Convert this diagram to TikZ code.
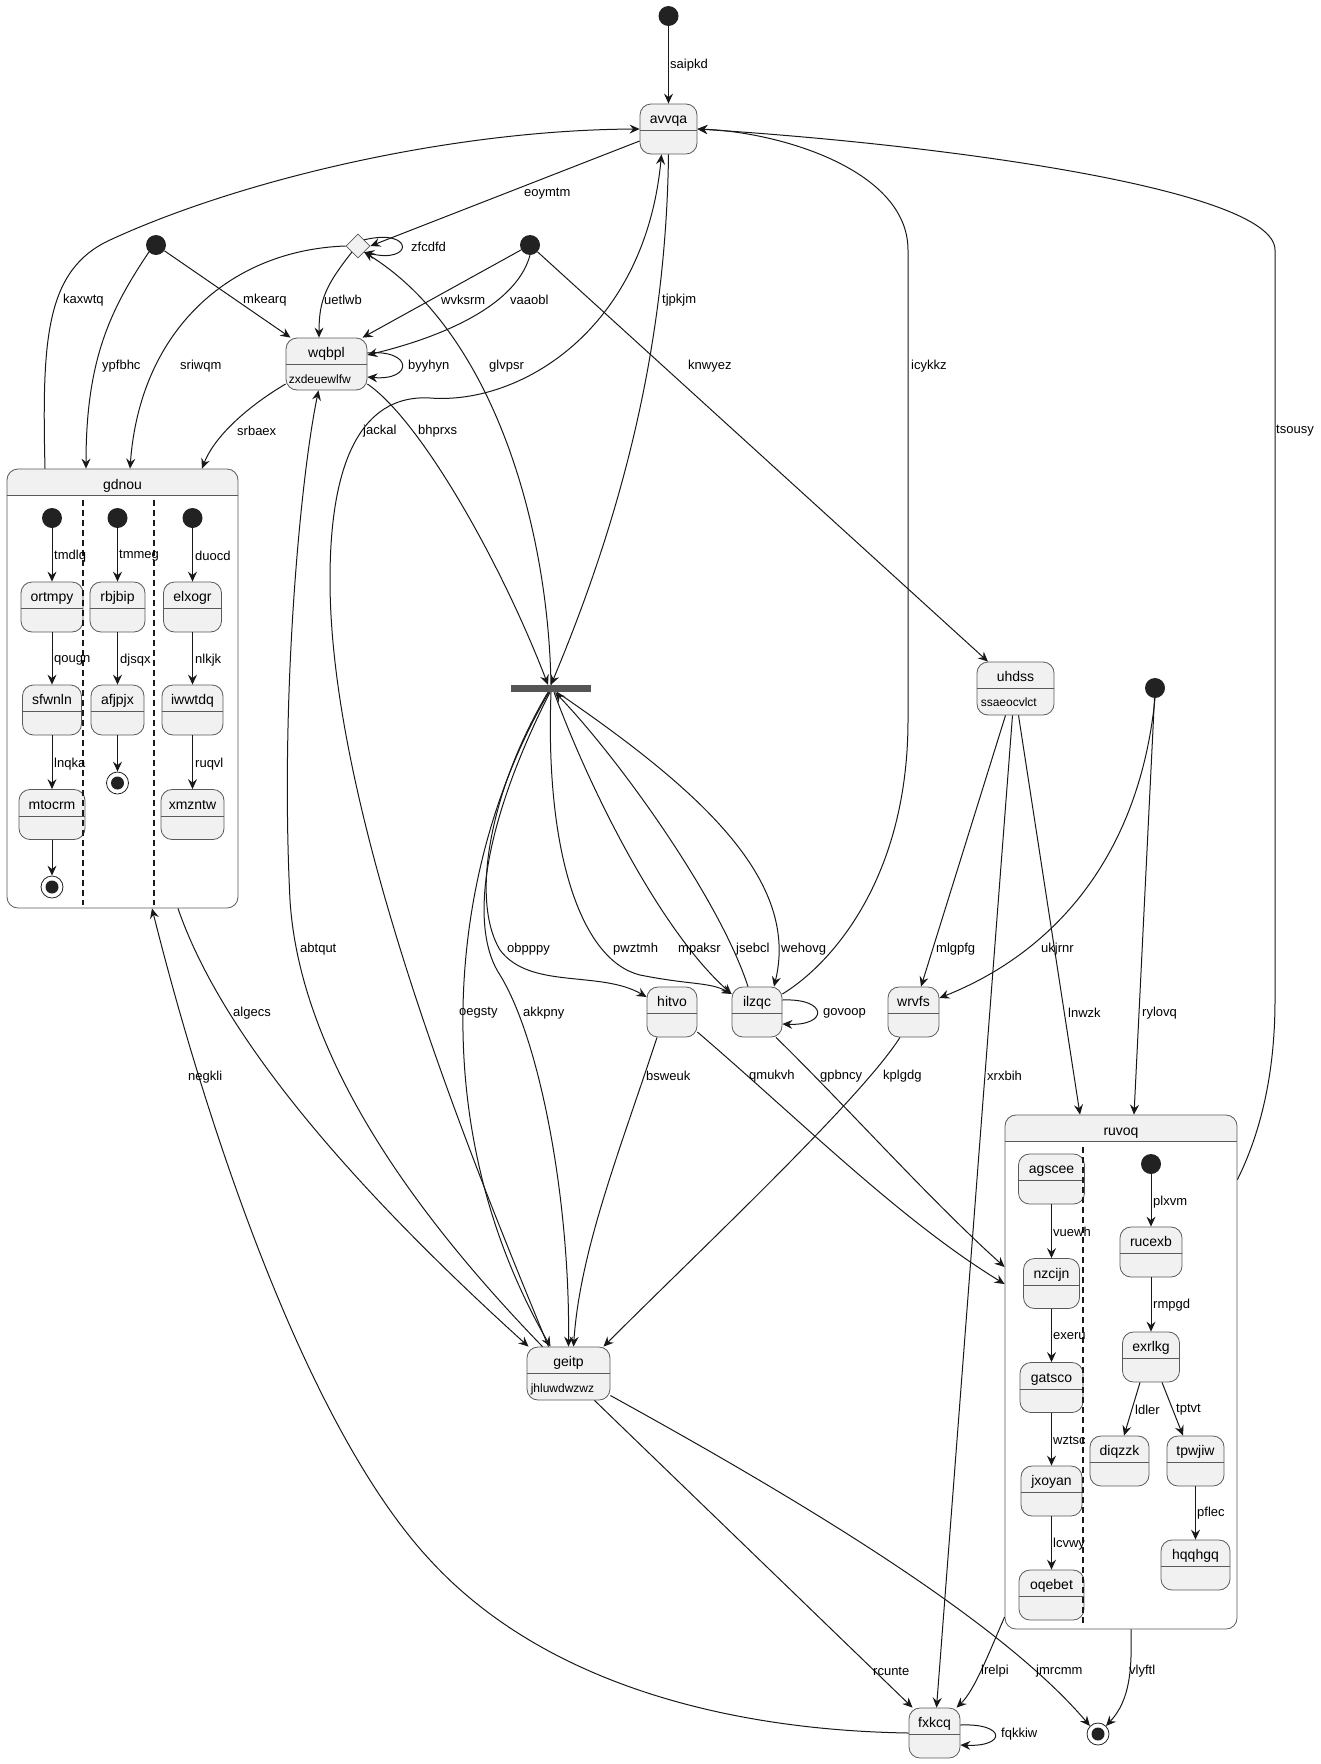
\documentclass[tikz,border=0pt]{standalone}
\usepackage{fontspec}
\setmainfont{Liberation Sans}
\usetikzlibrary{arrows.meta, shapes.geometric, calc}
\definecolor{stfill}{HTML}{F1F1F1}
\definecolor{stline}{HTML}{5A5A5A}
\definecolor{edgecol}{HTML}{181818}
\definecolor{dotcol}{HTML}{222222}
\definecolor{barcol}{HTML}{555555}
\newcommand{\stfont}{\fontsize{14}{16}\selectfont}
\newcommand{\lblfont}{\fontsize{13}{15}\selectfont}
\newcommand{\bodyfont}{\fontsize{12}{14}\selectfont}
% header line of a state box
\newcommand{\stsep}[2][27]{\draw[sepline] ([yshift=-#1pt]#2.north west) -- ([yshift=-#1pt]#2.north east);}
\tikzset{
  state/.style={draw=stline, fill=stfill, line width=0.8pt, rounded corners=11pt,
    inner xsep=0pt, inner ysep=0pt, text height=19.5pt, text depth=30.5pt, font=\stfont},
  comp/.style={draw=stline, fill=white, line width=0.8pt, rounded corners=11pt,
    inner xsep=0pt, inner ysep=0pt, text height=20pt, font=\stfont,
    path picture={\fill[stfill, sharp corners] (path picture bounding box.north west)
      rectangle ([yshift=-27pt]path picture bounding box.north east);}},
  sepline/.style={draw=stline, line width=0.8pt},
  lanesep/.style={draw=edgecol, line width=1.5pt, dash pattern=on 6pt off 4pt},
  stbody/.style={anchor=base west, inner sep=0pt, font=\bodyfont},
  dot/.style={circle, fill=dotcol, minimum size=20pt, inner sep=0pt},
  final/.style={circle, draw=dotcol, line width=0.8pt, fill=white, minimum size=22pt, inner sep=0pt,
    path picture={\fill[dotcol] (path picture bounding box.center) circle (6.5pt);}},
  choice/.style={diamond, draw=stline, fill=stfill, line width=0.8pt, minimum size=24pt, aspect=1, inner sep=0pt},
  forkbar/.style={fill=barcol, minimum width=80pt, minimum height=7pt, inner sep=0pt},
  edge/.style={draw=edgecol, line width=1pt, -{Stealth[length=10pt, width=9pt, inset=3.5pt]}},
  lbl/.style={anchor=west, inner sep=0pt, font=\lblfont}
}

\begin{document}
\begin{tikzpicture}[x=1pt, y=-1pt]
  \useasboundingbox (0,0) rectangle (1321,1764);

  % Composite gdnou
  \node[comp, minimum width=231pt, text depth=419pt] (gdnou) at (122.5,688.5) {gdnou};
  \stsep{gdnou}
  \node[dot] (gd1) at (52,518) {};
  \node[dot] (gd2) at (117.5,518) {};
  \node[dot] (gd3) at (192.5,518) {};
  \node[state, minimum width=62pt] (ortmpy) at (52,607) {ortmpy};
  \node[state, minimum width=59pt] (sfwnln) at (52,710) {sfwnln};
  \node[state, minimum width=66pt] (mtocrm) at (52,814.5) {mtocrm};
  \node[final] (gdf1) at (52,887) {};
  \node[state, minimum width=55pt] (rbjbip) at (117.5,607) {rbjbip};
  \node[state, minimum width=53pt] (afjpjx) at (117.5,710) {afjpjx};
  \node[final] (gdf2) at (117.5,783) {};
  \node[state, minimum width=58pt] (elxogr) at (192.5,607) {elxogr};
  \node[state, minimum width=61pt] (iwwtdq) at (192.5,710) {iwwtdq};
  \node[state, minimum width=63pt] (xmzntw) at (192.5,814.5) {xmzntw};
  \foreach \s in {ortmpy,sfwnln,mtocrm,rbjbip,afjpjx,elxogr,iwwtdq,xmzntw} {\stsep{\s}}
  \draw[lanesep] (83,500) -- (83,905);
  \draw[lanesep] (154,500) -- (154,905);

  % Composite ruvoq
  \node[comp, minimum width=232pt, text depth=494pt] (ruvoq) at (1121,1372) {ruvoq};
  \stsep{ruvoq}
  \node[state, minimum width=66pt] (agscee) at (1051.5,1179) {agscee};
  \node[state, minimum width=56pt] (nzcijn) at (1051.5,1283.5) {nzcijn};
  \node[state, minimum width=63pt] (gatsco) at (1051.5,1387.5) {gatsco};
  \node[state, minimum width=61pt] (jxoyan) at (1051.5,1491) {jxoyan};
  \node[state, minimum width=65pt] (oqebet) at (1051.5,1595) {oqebet};
  \node[dot] (rv1) at (1151,1164) {};
  \node[state, minimum width=62pt] (rucexb) at (1151,1252) {rucexb};
  \node[state, minimum width=57pt] (exrlkg) at (1151,1357) {exrlkg};
  \node[state, minimum width=59pt] (diqzzk) at (1119.5,1461) {diqzzk};
  \node[state, minimum width=57pt] (tpwjiw) at (1195.5,1461) {tpwjiw};
  \node[state, minimum width=69pt] (hqqhgq) at (1195.5,1565) {hqqhgq};
  \foreach \s in {agscee,nzcijn,gatsco,jxoyan,oqebet,rucexb,exrlkg,diqzzk,tpwjiw,hqqhgq} {\stsep{\s}}
  \draw[lanesep] (1083,1147) -- (1083,1623);

  % Plain states and pseudo states
  \node[dot] (itop) at (668.5,16) {};
  \node[dot] (ileft) at (156,245) {};
  \node[dot] (imid) at (530,245) {};
  \node[dot] (iright) at (1155,688) {};
  \node[choice] (choice) at (358,246) {};
  \node[forkbar] (fork) at (551,688.5) {};
  \node[final] (fbot) at (1098,1734) {};
  \node[state, minimum width=57pt] (avvqa) at (668.5,129) {avvqa};
  \node[state, minimum width=81pt, text depth=32.5pt] (wqbpl) at (326.5,364) {wqbpl};
  \node[stbody] (wqbplb) at ([xshift=3pt,yshift=7pt]wqbpl.south west) {zxdeuewlfw};
  \node[state, minimum width=77pt, text depth=33.5pt] (uhdss) at (1015.5,688.5) {uhdss};
  \node[stbody] (uhdssb) at ([xshift=4pt,yshift=9pt]uhdss.south west) {ssaeocvlct};
  \node[state, minimum width=50pt] (hitvo) at (672,1012) {hitvo};
  \node[state, minimum width=50pt] (ilzqc) at (757,1012) {ilzqc};
  \node[state, minimum width=51pt] (wrvfs) at (913.5,1012) {wrvfs};
  \node[state, minimum width=83pt, text depth=33.5pt] (geitp) at (568.5,1373.5) {geitp};
  \node[stbody] (geitpb) at ([xshift=4pt,yshift=8pt]geitp.south west) {jhluwdwzwz};
  \node[state, minimum width=51pt] (fxkcq) at (934.5,1733) {fxkcq};
  \foreach \s in {avvqa,wqbpl,uhdss,hitvo,ilzqc,wrvfs,geitp,fxkcq} {\stsep{\s}}

  % Inner transitions of gdnou
  \draw[edge] (gd1) -- (ortmpy);
  \draw[edge] (ortmpy) -- (sfwnln);
  \draw[edge] (sfwnln) -- (mtocrm);
  \draw[edge] (mtocrm) -- (gdf1);
  \draw[edge] (gd2) -- (rbjbip);
  \draw[edge] (rbjbip) -- (afjpjx);
  \draw[edge] (afjpjx) -- (gdf2);
  \draw[edge] (gd3) -- (elxogr);
  \draw[edge] (elxogr) -- (iwwtdq);
  \draw[edge] (iwwtdq) -- (xmzntw);
  \node[lbl] (tmdlq) at (54,556) {tmdlq};
  \node[lbl] (qougn) at (54,660) {qougn};
  \node[lbl] (lnqka) at (54,764) {lnqka};
  \node[lbl] (tmmeg) at (119,556) {tmmeg};
  \node[lbl] (djsqx) at (120,660) {djsqx};
  \node[lbl] (duocd) at (195,556) {duocd};
  \node[lbl] (nlkjk) at (195,660) {nlkjk};
  \node[lbl] (ruqvl) at (195,764) {ruqvl};

  % Inner transitions of ruvoq
  \draw[edge] (agscee) -- (nzcijn);
  \draw[edge] (nzcijn) -- (gatsco);
  \draw[edge] (gatsco) -- (jxoyan);
  \draw[edge] (jxoyan) -- (oqebet);
  \draw[edge] (rv1) -- (rucexb);
  \draw[edge] (rucexb) -- (exrlkg);
  \draw[edge] ([xshift=-11pt]exrlkg.south) -- ([xshift=4.5pt]diqzzk.north);
  \draw[edge] ([xshift=11pt]exrlkg.south) -- ([xshift=-12.5pt]tpwjiw.north);
  \draw[edge] (tpwjiw) -- (hqqhgq);
  \node[lbl] (vuewh) at (1053,1232) {vuewh};
  \node[lbl] (exeru) at (1053,1336) {exeru};
  \node[lbl] (wztsc) at (1053,1440) {wztsc};
  \node[lbl] (lcvwy) at (1053,1544) {lcvwy};
  \node[lbl] (plxvm) at (1153,1202) {plxvm};
  \node[lbl] (rmpgd) at (1153,1305) {rmpgd};
  \node[lbl] (ldler) at (1135,1410) {ldler};
  \node[lbl] (tptvt) at (1176,1410) {tptvt};
  \node[lbl] (pflec) at (1197,1513) {pflec};

  % Upper transitions
  \draw[edge] (itop) -- (avvqa);
  \draw[edge] ([yshift=-12pt]avvqa.west) -- (choice.east);
  \draw[edge] (choice.north east) .. controls +(50,-12) and +(50,12) .. (choice.south east);
  \draw[edge] (choice.south west) .. controls (326,285) and (319,300) .. ([xshift=-7.5pt]wqbpl.north);
  \draw[edge] (choice.west) .. controls (230,250) and (140,330) .. ([xshift=7.5pt]gdnou.north);
  \draw[edge] (ileft) -- ([xshift=-36pt]wqbpl.north);
  \draw[edge] (ileft.south west) .. controls (110,310) and (86,360) .. ([xshift=-36.5pt]gdnou.north);
  \draw[edge] (imid) -- ([xshift=36pt]wqbpl.north);
  \draw[edge] (imid.south) .. controls (515,310) and (430,340) .. ([yshift=9pt]wqbpl.east);
  \draw[edge] ([yshift=11pt]wqbpl.east) .. controls +(46,-4) and +(46,4) .. ([yshift=-13pt]wqbpl.east);
  \draw[edge] ([yshift=-20pt]wqbpl.west) .. controls (250,405) and (215,435) .. ([xshift=79.5pt]gdnou.north);
  \draw[edge] (imid) -- ([xshift=-27.5pt]uhdss.north);
  \draw[edge] (avvqa.south) .. controls (666,350) and (620,520) .. (fork.north);
  \draw[edge] ([xshift=-77.5pt]gdnou.north) .. controls (42,340) and (45,270) .. (110,240)
    .. controls (240,180) and (450,130) .. (avvqa.west);
  \draw[edge] ([xshift=-20pt]geitp.north) .. controls (480,1180) and (330,820) .. (330,580)
    .. controls (330,430) and (380,395) .. (430,398) .. controls (520,405) and (645,330) .. ([xshift=-7pt]avvqa.south);
  \draw[edge] ([yshift=-20pt]wqbpl.east) .. controls (420,420) and (500,560) .. ([xshift=-3pt]fork.north);
  \draw[edge] (fork.north) .. controls (548,520) and (490,330) .. (choice.south east);
  \draw[edge] ([yshift=18pt]ilzqc.east) .. controls (830,965) and (908,880) .. (908,720) -- (908,250)
    .. controls (908,170) and (780,132) .. (avvqa.east);
  \draw[edge] ([yshift=-65pt]ruvoq.north east) .. controls (1262,1130) and (1275,1070) .. (1275,1000) -- (1275,250)
    .. controls (1275,190) and (950,145) .. (avvqa.east);
  \node[lbl] (saipkd) at (670,65) {saipkd};
  \node[lbl] (eoymtm) at (524,194) {eoymtm};
  \node[lbl] (zfcdfd) at (411,247) {zfcdfd};
  \node[lbl] (uetlwb) at (324,300) {uetlwb};
  \node[lbl] (sriwqm) at (180,366) {sriwqm};
  \node[lbl] (mkearq) at (243,300) {mkearq};
  \node[lbl] (ypfbhc) at (102,366) {ypfbhc};
  \node[lbl] (wvksrm) at (441,300) {wvksrm};
  \node[lbl] (vaaobl) at (510,300) {vaaobl};
  \node[lbl] (byyhyn) at (408,366) {byyhyn};
  \node[lbl] (srbaex) at (237,431) {srbaex};
  \node[lbl] (knwyez) at (688,366) {knwyez};
  \node[lbl] (tjpkjm) at (662,300) {tjpkjm};
  \node[lbl] (kaxwtq) at (63,300) {kaxwtq};
  \node[lbl] (jackal) at (363,431) {jackal};
  \node[lbl] (bhprxs) at (418,431) {bhprxs};
  \node[lbl] (glvpsr) at (489,366) {glvpsr};
  \node[lbl] (icykkz) at (911,366) {icykkz};
  \node[lbl] (tsousy) at (1276,431) {tsousy};

  % Fork and middle row
  \draw[edge] ([xshift=-3pt]fork.south) .. controls (490,790) and (470,900) .. (500,950)
    .. controls (530,990) and (600,970) .. ([yshift=15pt]hitvo.west);
  \draw[edge] (fork.south) .. controls (545,850) and (580,960) .. (640,975)
    .. controls (690,985) and (710,982) .. ([yshift=18pt]ilzqc.west);
  \draw[edge] ([xshift=3pt]fork.south) .. controls (590,790) and (660,930) .. ([yshift=18pt]ilzqc.west);
  \draw[edge] ([xshift=-9pt]ilzqc.north) .. controls (720,900) and (620,760) .. ([xshift=4pt]fork.south);
  \draw[edge] ([xshift=6pt]fork.south) .. controls (700,790) and (800,880) .. ([xshift=17pt]ilzqc.north);
  \draw[edge] ([yshift=12pt]ilzqc.east) .. controls +(46,-2) and +(46,2) .. ([yshift=-12pt]ilzqc.east);
  \draw[edge] ([xshift=-2pt]fork.south) .. controls (450,860) and (420,1120) .. ([xshift=-18pt]geitp.north);
  \draw[edge] ([xshift=-1pt]fork.south) .. controls (480,830) and (470,930) .. (500,975)
    .. controls (540,1040) and (570,1200) .. (geitp.north);
  \draw[edge] ([xshift=-15pt]hitvo.south) .. controls (620,1150) and (580,1250) .. ([xshift=5pt]geitp.north);
  \draw[edge] ([yshift=-20pt]hitvo.east) .. controls (800,1120) and (900,1220) .. ([yshift=88pt]ruvoq.west);
  \draw[edge] ([xshift=19pt]ilzqc.south) .. controls (850,1110) and (930,1200) .. ([yshift=105pt]ruvoq.west);
  \draw[edge] ([xshift=-13.5pt]wrvfs.south) .. controls (860,1100) and (700,1250) .. ([xshift=35pt]geitp.north);
  \draw[edge] ([xshift=-10pt]uhdss.south) -- ([xshift=7.5pt]wrvfs.north);
  \draw[edge] (iright.south) .. controls (1140,850) and (1060,950) .. ([yshift=14pt]wrvfs.east);
  \draw[edge] ([xshift=3pt]uhdss.south) -- ([xshift=-41pt]ruvoq.north);
  \draw[edge] (iright) -- ([xshift=13pt]ruvoq.north);
  \draw[edge] ([xshift=-3pt]uhdss.south) -- ([xshift=2pt]fxkcq.north);
  \node[lbl] (obpppy) at (507,949) {obpppy};
  \node[lbl] (pwztmh) at (613,949) {pwztmh};
  \node[lbl] (mpaksr) at (678,949) {mpaksr};
  \node[lbl] (jsebcl) at (736,949) {jsebcl};
  \node[lbl] (wehovg) at (781,949) {wehovg};
  \node[lbl] (govoop) at (823,1013) {govoop};
  \node[lbl] (oegsty) at (459,1013) {oegsty};
  \node[lbl] (akkpny) at (523,1013) {akkpny};
  \node[lbl] (mlgpfg) at (936,949) {mlgpfg};
  \node[lbl] (ukjrnr) at (1041,949) {ukjrnr};
  \node[lbl] (lnwzk) at (1068,1013) {lnwzk};
  \node[lbl] (rylovq) at (1142,1013) {rylovq};
  \node[lbl] (bsweuk) at (646,1076) {bsweuk};
  \node[lbl] (qmukvh) at (749,1076) {qmukvh};
  \node[lbl] (gpbncy) at (820,1076) {gpbncy};
  \node[lbl] (kplgdg) at (883,1076) {kplgdg};
  \node[lbl] (xrxbih) at (987,1076) {xrxbih};

  % Lower transitions
  \draw[edge] ([xshift=-26pt]geitp.north) .. controls (420,1220) and (300,1060) .. (290,900)
    .. controls (280,700) and (300,480) .. ([xshift=-8pt]wqbpl.south);
  \draw[edge] ([xshift=55.5pt]gdnou.south) .. controls (230,1060) and (400,1230) .. ([xshift=-40pt]geitp.north);
  \draw[edge] (fxkcq.west) .. controls (720,1730) and (540,1680) .. (430,1560)
    .. controls (300,1420) and (200,1100) .. ([xshift=29.5pt]gdnou.south);
  \draw[edge] ([xshift=26pt]geitp.south) -- ([xshift=-22pt]fxkcq.north);
  \draw[edge] ([yshift=-22pt]geitp.east) .. controls (800,1500) and (1000,1620) .. (fbot.north west);
  \draw[edge] ([yshift=-245pt]ruvoq.west) .. controls (990,1650) and (975,1690) .. ([xshift=22pt]fxkcq.north);
  \draw[edge] ([xshift=10pt]ruvoq.south) .. controls (1132,1670) and (1130,1700) .. (fbot.north east);
  \draw[edge] ([yshift=8pt]fxkcq.east) .. controls +(46,-2) and +(46,2) .. ([yshift=-12pt]fxkcq.east);
  \node[lbl] (abtqut) at (300,949) {abtqut};
  \node[lbl] (algecs) at (233,1013) {algecs};
  \node[lbl] (negkli) at (188,1077) {negkli};
  \node[lbl] (rcunte) at (873,1671) {rcunte};
  \node[lbl] (lrelpi) at (981,1671) {lrelpi};
  \node[lbl] (jmrcmm) at (1036,1671) {jmrcmm};
  \node[lbl] (vlyftl) at (1129,1671) {vlyftl};
  \node[lbl] (fqkkiw) at (1001,1734) {fqkkiw};
\end{tikzpicture}
\end{document}
